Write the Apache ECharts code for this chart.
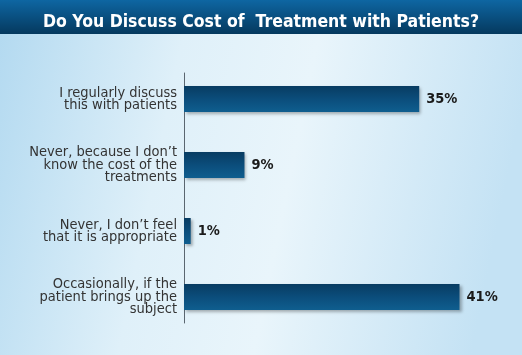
<!DOCTYPE html>
<html>
<head>
<meta charset="utf-8">
<script src="https://cdn.jsdelivr.net/npm/echarts@6/dist/echarts.min.js"></script>
<style>
html,body{margin:0;padding:0;}
#c{width:522px;height:355px;}
</style>
</head>
<body>
<div id="c"></div>
<script>
const titleText = "Do You Discuss Cost of  Treatment with Patients?";
const categories = [
  "I regularly discuss\nthis with patients",
  "Never, because I don\u2019t\nknow the cost of the\ntreatments",
  "Never, I don\u2019t feel\nthat it is appropriate",
  "Occasionally, if the\npatient brings up the\nsubject"
];
const values = [35, 9, 1, 41];

const chart = echarts.init(document.getElementById('c'));
const narrow = "'Liberation Sans Narrow','DejaVu Sans Condensed','Arial Narrow',sans-serif";
chart.setOption({
  animation: false,
  backgroundColor: {
    type: 'linear', x: 0, y: 0, x2: 1, y2: 0.3,
    colorStops: [
      {offset: 0, color: '#b2d9f0'},
      {offset: 0.35, color: '#dff0f9'},
      {offset: 0.6, color: '#e9f5fb'},
      {offset: 1, color: '#c4e2f4'}
    ]
  },
  graphic: [
    {
      type: 'rect', left: 0, top: 0, z: 0,
      shape: {width: 522, height: 34},
      style: {
        fill: {type: 'linear', x: 0, y: 0, x2: 0, y2: 1,
          colorStops: [{offset: 0, color: '#0e66a2'}, {offset: 1, color: '#05395e'}]}
      }
    }
  ],
  title: {
    text: titleText,
    left: 'center', top: 8,
    textStyle: {color: '#ffffff', fontSize: 17.5, fontWeight: 'bold', fontFamily: narrow}
  },
  grid: [
    {left: 184, top: 66, width: 336, height: 264},
    {left: 184, top: 73, width: 336, height: 250}
  ],
  xAxis: [
    {type: 'value', gridIndex: 0, min: 0, max: 50, show: false},
    {type: 'value', gridIndex: 1, min: 0, max: 50, show: false}
  ],
  yAxis: [
    {
      type: 'category', gridIndex: 0, data: categories, inverse: true,
      axisLine: {show: false}, axisTick: {show: false},
      axisLabel: {
        margin: 7, color: '#333333', fontSize: 14.5, lineHeight: 12.5,
        fontFamily: narrow, align: 'right'
      }
    },
    {
      type: 'category', gridIndex: 1, data: [''],
      axisLine: {show: true, lineStyle: {color: '#5a6670', width: 1}},
      axisTick: {show: false}, axisLabel: {show: false}
    }
  ],
  series: [{
    type: 'bar', xAxisIndex: 0, yAxisIndex: 0,
    data: values, barWidth: 26,
    itemStyle: {
      color: {type: 'linear', x: 0, y: 0, x2: 0, y2: 1,
        colorStops: [{offset: 0, color: '#083c62'}, {offset: 0.5, color: '#0b4d7b'}, {offset: 1, color: '#0f5e8f'}]},
      shadowColor: 'rgba(0,0,0,0.3)', shadowBlur: 3, shadowOffsetX: 2, shadowOffsetY: 2
    },
    label: {
      show: true, position: 'right', distance: 7,
      formatter: '{c}%', color: '#1a1a1a', fontSize: 14.5, fontWeight: 'bold',
      fontFamily: narrow
    }
  }]
});
</script>
</body>
</html>
